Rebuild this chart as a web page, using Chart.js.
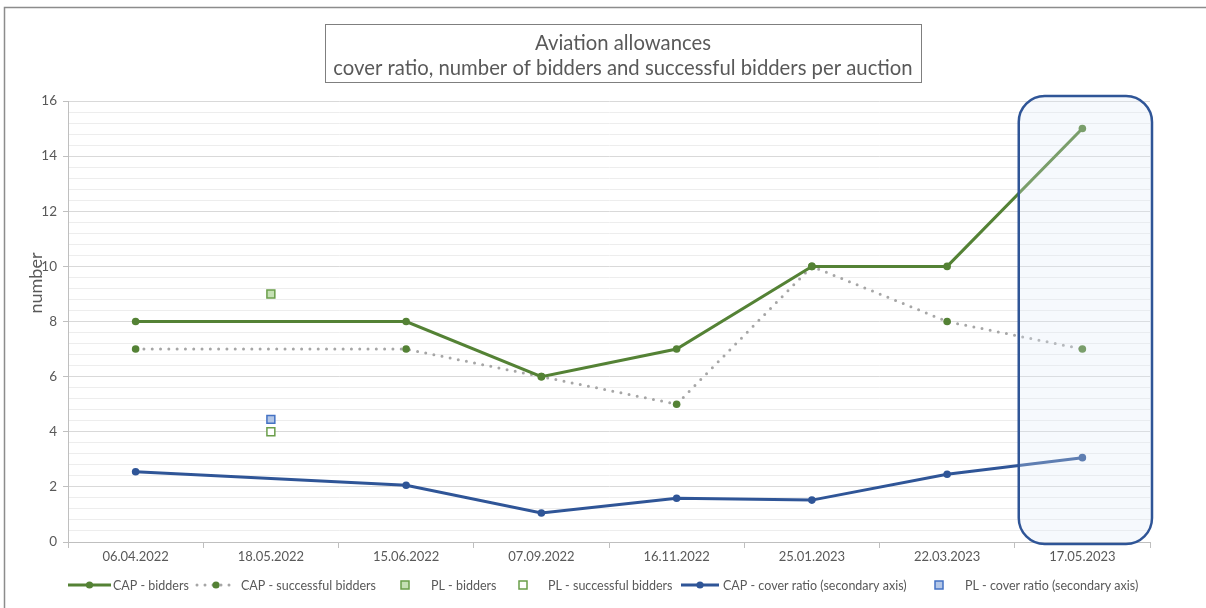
<!DOCTYPE html>
<html>
<head>
<meta charset="utf-8">
<script src="https://cdn.jsdelivr.net/npm/chart.js@4/dist/chart.umd.min.js"></script>
<style>
  html, body { margin: 0; padding: 0; background: #ffffff; }
  #wrap { width: 1206px; height: 608px; }
</style>
</head>
<body>
<div id="wrap"><canvas id="c" width="1206" height="608"></canvas></div>
<script>
// ---- data ----
const categories = ["06.04.2022", "18.05.2022", "15.06.2022", "07.09.2022", "16.11.2022", "25.01.2023", "22.03.2023", "17.05.2023"];
const capBidders = [8, null, 8, 6, 7, 10, 10, 15];
const capSuccessful = [7, null, 7, 6, 5, 10, 8, 7];
const plBidders = [null, 9, null, null, null, null, null, null];
const plSuccessful = [null, 4, null, null, null, null, null, null];
const capCoverRatio = [2.55, null, 2.06, 1.05, 1.59, 1.52, 2.46, 3.06];
const plCoverRatio = [null, 4.45, null, null, null, null, null, null];
const titleLines = ["Aviation allowances", "cover ratio, number of bidders and successful bidders per auction"];
const yAxisTitle = "number";
const legendLabels = ["CAP - bidders", "CAP - successful bidders", "PL - bidders", "PL - successful bidders", "CAP - cover ratio (secondary axis)", "PL - cover ratio (secondary axis)"];
const highlightIndex = 7;

const FONT = "Lato, 'Open Sans', sans-serif";
const TXT = "#595959";
const GREEN = "#548235";
const BLUE = "#2f5597";
const GRAY_DOT = "#a6a6a6";

function isMajor(v) { return Math.abs(v / 2 - Math.round(v / 2)) < 1e-6; }

const decorPlugin = {
  id: 'decor',
  beforeDraw(chart) {
    const ctx = chart.ctx;
    ctx.save();
    ctx.fillStyle = '#ffffff';
    ctx.fillRect(0, 0, chart.width, chart.height);
    ctx.strokeStyle = '#8c8c8c';
    ctx.lineWidth = 1.5;
    ctx.beginPath();
    ctx.moveTo(4.5, chart.height);
    ctx.lineTo(4.5, 7.5);
    ctx.lineTo(chart.width, 7.5);
    ctx.stroke();
    ctx.restore();
  },
  afterDatasetsDraw(chart) {
    const ctx = chart.ctx;
    const x = chart.scales.x;
    const half = (x.getPixelForValue(1) - x.getPixelForValue(0)) / 2;
    const cx = x.getPixelForValue(highlightIndex);
    const l = cx - half + 4, r = cx + half + 2;
    const t = chart.chartArea.top - 5, b = chart.chartArea.bottom + 2;
    const rad = 26;
    ctx.save();
    ctx.beginPath();
    ctx.moveTo(l + rad, t);
    ctx.lineTo(r - rad, t);
    ctx.arcTo(r, t, r, t + rad, rad);
    ctx.lineTo(r, b - rad);
    ctx.arcTo(r, b, r - rad, b, rad);
    ctx.lineTo(l + rad, b);
    ctx.arcTo(l, b, l, b - rad, rad);
    ctx.lineTo(l, t + rad);
    ctx.arcTo(l, t, l + rad, t, rad);
    ctx.closePath();
    ctx.fillStyle = 'rgba(222,235,247,0.28)';
    ctx.fill();
    ctx.strokeStyle = BLUE;
    ctx.lineWidth = 2.5;
    ctx.stroke();
    ctx.restore();
  },
  afterDraw(chart) {
    const ctx = chart.ctx;
    ctx.save();
    ctx.strokeStyle = '#7f7f7f';
    ctx.lineWidth = 1;
    ctx.strokeRect(325.5, 24.5, 596, 58);
    ctx.fillStyle = TXT;
    ctx.font = "20.3px " + FONT;
    ctx.textAlign = 'center';
    ctx.textBaseline = 'middle';
    ctx.fillText(titleLines[0], 623, 43);
    ctx.fillText(titleLines[1], 623, 68);
    ctx.save();
    ctx.translate(36, 283);
    ctx.rotate(-Math.PI / 2);
    ctx.font = "18px " + FONT;
    ctx.fillText(yAxisTitle, 0, 0);
    ctx.restore();
    const ly = 585;
    ctx.font = "12.5px " + FONT;
    ctx.textAlign = 'left';
    function lineItem(x0, x1, color, width, dash, dotColor) {
      ctx.save();
      ctx.strokeStyle = color;
      ctx.lineWidth = width;
      if (dash) { ctx.setLineDash(dash); ctx.lineCap = 'round'; }
      ctx.beginPath(); ctx.moveTo(x0, ly); ctx.lineTo(x1, ly); ctx.stroke();
      ctx.restore();
      ctx.beginPath();
      ctx.fillStyle = dotColor;
      ctx.arc((x0 + x1) / 2, ly, 3.6, 0, Math.PI * 2);
      ctx.fill();
    }
    function squareItem(cx, fill, stroke) {
      ctx.fillStyle = fill;
      ctx.strokeStyle = stroke;
      ctx.lineWidth = 1.5;
      ctx.fillRect(cx - 4, ly - 4, 8, 8);
      ctx.strokeRect(cx - 4, ly - 4, 8, 8);
    }
    lineItem(68, 111, GREEN, 3, null, GREEN);
    lineItem(197, 235, GRAY_DOT, 3, [0, 8], GREEN);
    squareItem(405, '#c5e0b4', '#6a9e4a');
    squareItem(523, '#ffffff', '#6a9e4a');
    lineItem(681, 719, BLUE, 3, null, BLUE);
    squareItem(939, '#b4c7e7', '#4472c4');
    ctx.fillStyle = TXT;
    const tx = [113, 241, 431, 548, 723, 965];
    legendLabels.forEach((s, i) => ctx.fillText(s, tx[i], ly + 1));
    ctx.restore();
  }
};

new Chart(document.getElementById('c'), {
  type: 'line',
  data: {
    labels: categories,
    datasets: [
      {
        label: legendLabels[0], data: capBidders, yAxisID: 'y',
        borderColor: GREEN, backgroundColor: GREEN, borderWidth: 3,
        pointRadius: 3.8, pointBackgroundColor: GREEN, pointBorderWidth: 0,
        spanGaps: true, tension: 0
      },
      {
        label: legendLabels[1], data: capSuccessful, yAxisID: 'y',
        borderColor: GRAY_DOT, backgroundColor: GREEN, borderWidth: 3,
        borderDash: [0, 8.3], borderCapStyle: 'round',
        pointRadius: 3.8, pointBackgroundColor: GREEN, pointBorderWidth: 0,
        spanGaps: true, tension: 0
      },
      {
        label: legendLabels[2], data: plBidders, yAxisID: 'y', showLine: false,
        pointStyle: 'rect', pointRadius: 5.6, pointBackgroundColor: '#c5e0b4',
        pointBorderColor: '#6a9e4a', pointBorderWidth: 1.5
      },
      {
        label: legendLabels[3], data: plSuccessful, yAxisID: 'y', showLine: false,
        pointStyle: 'rect', pointRadius: 5.6, pointBackgroundColor: '#ffffff',
        pointBorderColor: '#6a9e4a', pointBorderWidth: 1.5
      },
      {
        label: legendLabels[4], data: capCoverRatio, yAxisID: 'y2',
        borderColor: BLUE, backgroundColor: BLUE, borderWidth: 3,
        pointRadius: 3.8, pointBackgroundColor: BLUE, pointBorderWidth: 0,
        spanGaps: true, tension: 0
      },
      {
        label: legendLabels[5], data: plCoverRatio, yAxisID: 'y2', showLine: false,
        pointStyle: 'rect', pointRadius: 5.6, pointBackgroundColor: '#b4c7e7',
        pointBorderColor: '#4472c4', pointBorderWidth: 1.5
      }
    ]
  },
  options: {
    responsive: false,
    devicePixelRatio: 1,
    animation: false,
    layout: { padding: { top: 101, right: 56, bottom: 36, left: 0 } },
    plugins: { legend: { display: false }, title: { display: false }, tooltip: { enabled: false } },
    scales: {
      x: {
        type: 'category',
        offset: true,
        afterFit(s) { s.height = 30; },
        grid: { offset: true, drawOnChartArea: false, drawTicks: true, tickLength: 6, color: '#bfbfbf' },
        border: { color: '#bfbfbf', width: 1 },
        ticks: { color: TXT, font: { family: FONT, size: 13 }, padding: 1, maxRotation: 0, autoSkip: false }
      },
      y: {
        min: 0, max: 16,
        afterFit(s) { s.width = 68; },
        grid: {
          color: (c) => isMajor(c.tick.value) ? '#d9d9d9' : '#ededed',
          tickColor: (c) => isMajor(c.tick.value) ? '#bfbfbf' : 'rgba(0,0,0,0)',
          tickLength: 5, lineWidth: 1
        },
        border: { color: '#bfbfbf', width: 1 },
        ticks: {
          stepSize: 0.4, maxTicksLimit: 100, autoSkip: false,
          color: TXT, font: { family: FONT, size: 13.5 }, padding: 6,
          callback: (v) => isMajor(v) ? String(Math.round(v)) : ''
        }
      },
      y2: { min: 0, max: 16, display: false }
    }
  },
  plugins: [decorPlugin]
});
</script>
</body>
</html>
